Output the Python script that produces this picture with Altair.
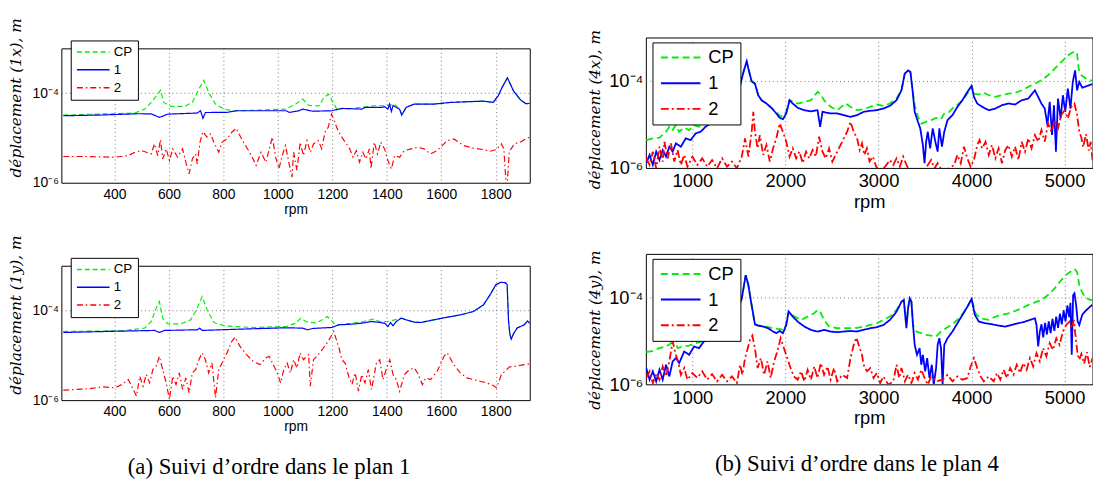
import altair as alt
import pandas as pd

SERIES = ["CP", "1", "2"]
COLORS = ["#00ee00", "#0000ff", "#ff0000"]

# ---------------- Top-left panel (plan 1, x) ----------------
TL_CP_RPM = [212, 342, 475, 511, 535, 559, 569, 581, 608, 656,
             686, 710, 728, 746, 771, 801, 837, 934, 1030, 1066,
             1091, 1115, 1151, 1169, 1187, 1199, 1217, 1272, 1356, 1392,
             1429, 1447, 1455, 1471, 1501, 1573, 1634, 1694, 1755, 1791,
             1809, 1825, 1843, 1866, 1892, 1911, 1925]
TL_CP_VAL = [3.24e-5, 3.41e-5, 3.6e-5, 4.41e-5, 6.2e-5, 9.5e-5, 1.17e-4, 6.2e-5, 5.06e-5, 5.06e-5,
             6.2e-5, 1.23e-4, 1.94e-4, 1.04e-4, 5.7e-5, 4.41e-5, 4.05e-5, 4.19e-5, 4.41e-5, 5.7e-5,
             7.35e-5, 5.3e-5, 5.2e-5, 8.0e-5, 9.5e-5, 6.8e-5, 4.41e-5, 4.56e-5, 5.23e-5, 5.23e-5,
             5.6e-5, 4.41e-5, 3.24e-5, 4.8e-5, 5.7e-5, 5.7e-5, 6.21e-5, 6.42e-5, 6.64e-5, 6.21e-5,
             8.7e-5, 1.4e-4, 2.2e-4, 1.1e-4, 7.0e-5, 5.8e-5, 5.9e-5]
TL_1_RPM = [212, 342, 487, 535, 565, 596, 668, 704, 716, 725,
            734, 813, 849, 970, 1030, 1042, 1078, 1091, 1127, 1199,
            1235, 1308, 1320, 1380, 1392, 1404, 1410, 1417, 1423, 1435,
            1447, 1455, 1471, 1501, 1573, 1634, 1694, 1755, 1791, 1809,
            1825, 1843, 1866, 1892, 1911, 1925]
TL_1_VAL = [3.13e-5, 3.24e-5, 3.47e-5, 3.45e-5, 2.88e-5, 3.40e-5, 3.53e-5, 3.6e-5, 4.05e-5, 2.74e-5,
            3.7e-5, 3.72e-5, 4.05e-5, 4.05e-5, 4.05e-5, 3.72e-5, 4.05e-5, 4.41e-5, 3.95e-5, 4.05e-5,
            4.56e-5, 4.41e-5, 4.8e-5, 4.8e-5, 5.0e-5, 4.4e-5, 5.7e-5, 3.9e-5, 5.3e-5, 4.8e-5,
            4.4e-5, 3.24e-5, 4.8e-5, 5.7e-5, 5.7e-5, 6.21e-5, 6.42e-5, 6.64e-5, 6.21e-5, 8.7e-5,
            1.4e-4, 2.2e-4, 1.1e-4, 7.0e-5, 5.8e-5, 5.9e-5]
TL_2_RPM = [212, 300, 402, 451, 475, 499, 535, 547, 559, 569,
            577, 590, 602, 614, 632, 650, 662, 674, 686, 698,
            704, 714, 725, 740, 753, 765, 783, 795, 813, 831,
            847, 867, 885, 903, 920, 938, 956, 980, 992, 1004,
            1016, 1028, 1040, 1052, 1058, 1070, 1082, 1094, 1107, 1119,
            1131, 1149, 1161, 1173, 1185, 1197, 1209, 1221, 1239, 1252,
            1264, 1276, 1288, 1300, 1312, 1324, 1336, 1342, 1354, 1366,
            1378, 1392, 1404, 1417, 1429, 1447, 1465, 1489, 1513, 1537,
            1561, 1585, 1622, 1646, 1682, 1719, 1755, 1779, 1803, 1821,
            1830, 1840, 1850, 1870, 1890, 1910, 1925]
TL_2_VAL = [3.85e-6, 3.85e-6, 3.72e-6, 4.05e-6, 4.8e-6, 5.23e-6, 4.41e-6, 7.36e-6, 4.05e-6, 9.18e-6,
            3.41e-6, 5.7e-6, 3.13e-6, 5.7e-6, 3.72e-6, 5.7e-6, 2.88e-6, 1.58e-6, 3.41e-6, 4.41e-6,
            2.64e-6, 8.0e-6, 1.38e-5, 1.04e-5, 1.23e-5, 8.0e-6, 4.8e-6, 8.0e-6, 9.5e-6, 1.34e-5,
            1.64e-5, 9.5e-6, 6.21e-6, 4.05e-6, 2.43e-6, 4.8e-6, 2.88e-6, 1.04e-5, 3.72e-6, 2.05e-6,
            4.05e-6, 6.76e-6, 2.88e-6, 1.34e-6, 4.8e-6, 1.88e-6, 8.0e-6, 4.05e-6, 8.72e-6, 4.8e-6,
            7.36e-6, 8.72e-6, 5.7e-6, 1.34e-5, 1.73e-5, 3.41e-5, 2.23e-5, 1.46e-5, 9.5e-6, 7.36e-6,
            5.7e-6, 3.72e-6, 5.23e-6, 2.88e-6, 4.8e-6, 3.41e-6, 5.7e-6, 2.05e-6, 8.0e-6, 4.41e-6,
            8.0e-6, 5.7e-6, 3.13e-6, 2.05e-6, 4.05e-6, 3.72e-6, 5.23e-6, 5.7e-6, 6.21e-6, 5.7e-6,
            4.41e-6, 5.23e-6, 8.72e-6, 9.5e-6, 6.76e-6, 5.89e-6, 5.5e-6, 5.06e-6, 5.5e-6, 7.36e-6,
            5.7e-6, 6e-7, 5e-6, 7.5e-6, 8e-6, 9.5e-6, 1.05e-5]

# ---------------- Bottom-left panel (plan 1, y) ----------------
BL_CP_RPM = [212, 427, 511, 535, 553, 565, 577, 596, 644, 680,
             704, 722, 740, 765, 801, 837, 909, 1030, 1066, 1084,
             1103, 1139, 1163, 1181, 1193, 1205, 1223, 1272, 1314, 1350,
             1374, 1404, 1429, 1447, 1453, 1471, 1501, 1525, 1573, 1622,
             1670, 1718, 1755, 1779, 1800, 1817, 1835, 1842, 1847, 1852,
             1857, 1865, 1879, 1905, 1917, 1925]
BL_CP_VAL = [3.41e-5, 3.53e-5, 4.05e-5, 5.7e-5, 1.13e-4, 1.58e-4, 6.76e-5, 5.06e-5, 5.06e-5, 6.21e-5,
             1.13e-4, 2.05e-4, 1.04e-4, 5.41e-5, 4.63e-5, 4.41e-5, 4.19e-5, 4.41e-5, 5.23e-5, 6.76e-5,
             5.7e-5, 5.23e-5, 6.21e-5, 7.35e-5, 6.4e-5, 5.23e-5, 4.8e-5, 5.23e-5, 5.7e-5, 6.4e-5,
             5.7e-5, 5.7e-5, 6.21e-5, 6.5e-5, 6.76e-5, 6.21e-5, 5.5e-5, 5.41e-5, 6.21e-5, 7.1e-5,
             8.0e-5, 9.5e-5, 1.34e-4, 2.23e-4, 3.72e-4, 4.26e-4, 4.2e-4, 3.8e-4, 6e-5, 3e-5,
             2.3e-5, 3.0e-5, 4.1e-5, 4.8e-5, 5.9e-5, 5.2e-5]
BL_1_RPM = [212, 366, 547, 565, 584, 704, 713, 722, 789, 909,
            1030, 1091, 1109, 1127, 1199, 1223, 1272, 1308, 1344, 1374,
            1392, 1404, 1414, 1423, 1435, 1453, 1471, 1501, 1525, 1573,
            1622, 1670, 1718, 1755, 1779, 1800, 1817, 1835, 1842, 1847,
            1852, 1857, 1865, 1879, 1905, 1917, 1925]
BL_1_VAL = [3.24e-5, 3.41e-5, 3.6e-5, 3.24e-5, 3.6e-5, 3.72e-5, 4.05e-5, 3.6e-5, 3.72e-5, 3.92e-5,
            4.12e-5, 4.05e-5, 3.72e-5, 3.98e-5, 4.19e-5, 4.8e-5, 4.96e-5, 5.23e-5, 5.7e-5, 5.41e-5,
            5.23e-5, 4.41e-5, 5.41e-5, 4.56e-5, 5.7e-5, 6.76e-5, 6.21e-5, 5.5e-5, 5.41e-5, 6.21e-5,
            7.1e-5, 8.0e-5, 9.5e-5, 1.34e-4, 2.23e-4, 3.72e-4, 4.26e-4, 4.2e-4, 3.8e-4, 6e-5,
            3e-5, 2.3e-5, 3.0e-5, 4.1e-5, 4.8e-5, 5.9e-5, 5.2e-5]
BL_2_RPM = [212, 306, 354, 402, 427, 451, 469, 481, 493, 505,
            517, 529, 541, 553, 565, 577, 590, 602, 614, 626,
            638, 650, 662, 674, 686, 698, 710, 722, 734, 746,
            758, 771, 783, 795, 813, 831, 843, 861, 885, 909,
            934, 956, 968, 980, 998, 1010, 1022, 1034, 1046, 1058,
            1070, 1082, 1094, 1113, 1119, 1131, 1149, 1167, 1185, 1205,
            1223, 1235, 1247, 1260, 1272, 1284, 1296, 1308, 1320, 1332,
            1344, 1362, 1374, 1386, 1398, 1411, 1423, 1435, 1447, 1465,
            1483, 1501, 1513, 1531, 1543, 1561, 1585, 1610, 1622, 1646,
            1670, 1694, 1718, 1743, 1767, 1791, 1803, 1821, 1835, 1850,
            1880, 1905, 1925]
BL_2_VAL = [1.67e-6, 1.79e-6, 1.98e-6, 1.88e-6, 2.23e-6, 2.88e-6, 1.73e-6, 1.23e-6, 3.41e-6, 2.05e-6,
            3.72e-6, 2.43e-6, 4.8e-6, 5.7e-6, 9.5e-6, 4.8e-6, 2.43e-6, 1.03e-6, 3.41e-6, 2.23e-6,
            4.05e-6, 1.73e-6, 3.13e-6, 1.46e-6, 4.05e-6, 4.8e-6, 8.0e-6, 1.13e-5, 8.0e-6, 4.05e-6,
            6.76e-6, 1.13e-6, 4.8e-6, 6.76e-6, 1.13e-5, 2.05e-5, 2.55e-5, 1.58e-5, 1.04e-5, 7.36e-6,
            6.21e-6, 8.72e-6, 9.5e-6, 6.76e-6, 4.05e-6, 2.43e-6, 4.8e-6, 6.76e-6, 4.05e-6, 8.0e-6,
            5.23e-6, 1.13e-5, 8.0e-6, 1.04e-5, 2.05e-6, 8.0e-6, 1.04e-5, 1.46e-5, 2.05e-5, 3.41e-5,
            1.58e-5, 8.0e-6, 6.76e-6, 3.41e-6, 2.23e-6, 4.05e-6, 1.58e-6, 3.72e-6, 2.43e-6, 4.8e-6,
            1.73e-6, 6.76e-6, 8.0e-6, 2.88e-6, 4.8e-6, 8.0e-6, 3.72e-6, 2.88e-6, 1.58e-6, 3.72e-6,
            4.8e-6, 5.23e-6, 4.05e-6, 2.23e-6, 3.13e-6, 2.88e-6, 4.41e-6, 9.5e-6, 1.13e-5, 6.21e-6,
            4.05e-6, 3.13e-6, 2.88e-6, 2.64e-6, 2.43e-6, 2.12e-6, 1.88e-6, 3.72e-6, 4.5e-6, 5.5e-6,
            5.8e-6, 6.2e-6, 6.4e-6]

# ---------------- Top-right panel (plan 4, x) ----------------
TR_CP_RPM = [504, 575, 646, 717, 752, 788, 823, 858, 912, 965,
             1018, 1071, 1124, 1177, 1230, 1283, 1319, 1389, 1460, 1513,
             1549, 1584, 1602, 1637, 1672, 1708, 1743, 1796, 1849, 1902,
             1938, 1973, 2009, 2044, 2132, 2203, 2274, 2345, 2373, 2415,
             2486, 2557, 2646, 2699, 2770, 2840, 2911, 2982, 3053, 3123,
             3194, 3247, 3282, 3318, 3343, 3364, 3389, 3424, 3460, 3512,
             3566, 3619, 3672, 3707, 3760, 3813, 3866, 3919, 3972, 4001,
             4026, 4079, 4132, 4185, 4256, 4327, 4397, 4468, 4539, 4610,
             4681, 4751, 4822, 4893, 4964, 5035, 5106, 5134, 5150, 5165,
             5190, 5240, 5300]
TR_CP_VAL = [4.38e-6, 4.78e-6, 4.95e-6, 6.79e-6, 8.85e-6, 7.41e-6, 9.66e-6, 6.79e-6, 8.4e-6, 7.41e-6,
             9.66e-6, 8.85e-6, 1.05e-5, 1.19e-5, 1.5e-5, 1.79e-5, 2.1e-5, 3.03e-5, 4.7e-5, 7.96e-5,
             1.61e-4, 2.82e-4, 1.91e-4, 9.8e-5, 8.7e-5, 4.7e-5, 3.61e-5, 3.03e-5, 2.41e-5, 1.95e-5,
             1.6e-5, 1.5e-5, 1.95e-5, 3.61e-5, 3.03e-5, 3.3e-5, 3.61e-5, 5.6e-5, 5.13e-5, 3.61e-5,
             2.54e-5, 2.13e-5, 3.03e-5, 2.54e-5, 2.13e-5, 2.24e-5, 2.54e-5, 2.87e-5, 2.68e-5, 3.03e-5,
             3.94e-5, 6.1e-5, 1.47e-4, 1.75e-4, 1.61e-4, 6.7e-5, 2.77e-5, 1.5e-5, 1.05e-5, 1.15e-5,
             1.26e-5, 1.42e-5, 1.32e-5, 1.79e-5, 1.95e-5, 2.54e-5, 3.03e-5, 3.94e-5, 5.8e-5, 7.7e-5,
             5.13e-5, 4.86e-5, 5.4e-5, 4.7e-5, 4.3e-5, 4.7e-5, 5.13e-5, 5.3e-5, 6.1e-5, 7.3e-5,
             8.7e-5, 1.04e-4, 1.35e-4, 1.91e-4, 2.72e-4, 3.87e-4, 4.78e-4, 4.23e-4, 2.0e-4, 1.5e-4,
             1.3e-4, 1.1e-4, 1.0e-4]
TR_1_RPM = [504, 540, 575, 611, 646, 681, 717, 752, 788, 823,
            876, 929, 982, 1035, 1088, 1142, 1195, 1248, 1319, 1389,
            1460, 1513, 1549, 1584, 1602, 1637, 1672, 1708, 1743, 1796,
            1849, 1902, 1938, 1973, 2009, 2044, 2079, 2132, 2203, 2274,
            2345, 2373, 2398, 2486, 2557, 2628, 2699, 2770, 2840, 2911,
            2982, 3053, 3123, 3194, 3247, 3282, 3318, 3343, 3364, 3389,
            3424, 3449, 3477, 3495, 3512, 3530, 3555, 3583, 3611, 3636,
            3654, 3682, 3707, 3742, 3795, 3848, 3902, 3955, 4001, 4026,
            4061, 4114, 4185, 4256, 4327, 4397, 4468, 4539, 4610, 4681,
            4716, 4751, 4787, 4815, 4840, 4865, 4886, 4907, 4929, 4957,
            4982, 5007, 5035, 5063, 5088, 5113, 5134, 5158, 5190, 5230,
            5265, 5300]
TR_1_VAL = [1.28e-6, 1.99e-6, 1.17e-6, 2.37e-6, 1.52e-6, 2.58e-6, 1.82e-6, 3.08e-6, 2.37e-6, 3.67e-6,
            3.08e-6, 4.78e-6, 4.38e-6, 6.22e-6, 6.79e-6, 8.85e-6, 1.05e-5, 1.37e-5, 1.95e-5, 3.03e-5,
            4.7e-5, 7.96e-5, 1.61e-4, 2.82e-4, 1.91e-4, 9.8e-5, 8.7e-5, 4.7e-5, 3.61e-5, 3.03e-5,
            2.41e-5, 1.79e-5, 1.42e-5, 1.32e-5, 1.79e-5, 3.61e-5, 3.03e-5, 2.41e-5, 2.13e-5, 2.0e-5,
            2.13e-5, 8.8e-6, 1.95e-5, 1.79e-5, 1.79e-5, 1.64e-5, 1.5e-5, 1.64e-5, 1.95e-5, 2.06e-5,
            2.13e-5, 2.32e-5, 2.68e-5, 3.61e-5, 6.1e-5, 1.47e-4, 1.75e-4, 1.61e-4, 6.7e-5, 1.95e-5,
            1.15e-5, 8.1e-6, 3.36e-6, 1.28e-6, 4.01e-6, 6.79e-6, 2.82e-6, 8.1e-6, 4.01e-6, 2.37e-6,
            8.1e-6, 3.08e-6, 6.79e-6, 1.26e-5, 1.64e-5, 2.54e-5, 3.61e-5, 5.6e-5, 7.7e-5, 4.3e-5,
            3.03e-5, 2.54e-5, 2.13e-5, 2.32e-5, 2.77e-5, 3.03e-5, 2.87e-5, 3.61e-5, 3.94e-5, 6.1e-5,
            4.3e-5, 3.03e-5, 2.32e-5, 9.66e-6, 3.3e-5, 5.7e-6, 2.77e-5, 2.37e-6, 3.94e-5, 1.37e-5,
            4.7e-5, 1.95e-5, 6.7e-5, 2.32e-5, 9.5e-5, 1.75e-4, 6.1e-5, 9.5e-5, 7e-5, 7.5e-5,
            8e-5, 8.5e-5]
TR_2_RPM = [504, 540, 575, 611, 646, 681, 699, 735, 770, 805,
            841, 876, 912, 947, 1000, 1053, 1106, 1159, 1212, 1265,
            1319, 1372, 1425, 1478, 1531, 1566, 1602, 1637, 1655, 1672,
            1701, 1725, 1761, 1796, 1832, 1867, 1902, 1938, 1973, 2009,
            2044, 2079, 2115, 2150, 2186, 2221, 2256, 2292, 2327, 2362,
            2398, 2433, 2469, 2504, 2557, 2610, 2663, 2699, 2734, 2770,
            2798, 2823, 2848, 2876, 2904, 2940, 2975, 3018, 3071, 3123,
            3159, 3194, 3230, 3265, 3301, 3336, 3407, 3477, 3530, 3566,
            3601, 3636, 3689, 3760, 3813, 3848, 3884, 3919, 3955, 3990,
            4026, 4061, 4086, 4114, 4150, 4185, 4220, 4256, 4291, 4327,
            4362, 4397, 4433, 4468, 4504, 4539, 4575, 4610, 4645, 4681,
            4716, 4751, 4787, 4822, 4858, 4893, 4929, 4964, 5000, 5035,
            5071, 5106, 5134, 5158, 5180, 5200, 5230, 5260, 5280, 5300]
TR_2_VAL = [1.66e-6, 1.17e-6, 2.37e-6, 9.8e-7, 3.08e-6, 1.4e-6, 4.01e-6, 1.66e-6, 3.67e-6, 1.4e-6,
            2.58e-6, 1.17e-6, 1.99e-6, 1.07e-6, 1.82e-6, 1.17e-6, 1.66e-6, 1.07e-6, 1.52e-6, 9.8e-7,
            1.66e-6, 1.07e-6, 1.4e-6, 9.8e-7, 1.82e-6, 4.78e-6, 1.82e-6, 6.79e-6, 1.95e-5, 6.79e-6,
            2.82e-6, 5.7e-6, 1.99e-6, 3.36e-6, 1.4e-6, 2.82e-6, 4.78e-6, 1.05e-5, 6.79e-6, 4.01e-6,
            1.82e-6, 2.82e-6, 1.66e-6, 2.37e-6, 1.28e-6, 2.37e-6, 1.66e-6, 2.58e-6, 1.82e-6, 5.22e-6,
            2.37e-6, 1.66e-6, 2.82e-6, 1.4e-6, 2.37e-6, 4.01e-6, 6.79e-6, 1.15e-5, 6.79e-6, 4.78e-6,
            2.58e-6, 3.67e-6, 1.99e-6, 2.82e-6, 1.4e-6, 1.82e-6, 1.07e-6, 8.3e-7, 1.07e-6, 1.52e-6,
            1.17e-6, 1.66e-6, 1.07e-6, 1.82e-6, 1.17e-6, 8.3e-7, 8.3e-7, 8.3e-7, 1.17e-6, 1.52e-6,
            9.8e-7, 1.28e-6, 8.3e-7, 9.8e-7, 1.17e-6, 1.99e-6, 1.28e-6, 3.08e-6, 1.66e-6, 1.07e-6,
            1.52e-6, 3.36e-6, 4.38e-6, 2.82e-6, 4.01e-6, 1.99e-6, 3.36e-6, 1.66e-6, 2.82e-6, 1.28e-6,
            2.58e-6, 3.36e-6, 1.82e-6, 3.08e-6, 1.52e-6, 4.01e-6, 2.37e-6, 4.78e-6, 2.82e-6, 5.7e-6,
            4.01e-6, 7.41e-6, 4.01e-6, 1.05e-5, 6.79e-6, 1.26e-5, 8.1e-6, 1.64e-5, 2.13e-5, 1.37e-5,
            2.54e-5, 3.03e-5, 1.64e-5, 6.79e-6, 5e-6, 3e-6, 6e-6, 2.5e-6, 4e-6, 1.5e-6]

# ---------------- Bottom-right panel (plan 4, y) ----------------
BR_CP_RPM = [504, 575, 646, 717, 770, 805, 841, 894, 965, 1035,
             1106, 1177, 1248, 1283, 1354, 1425, 1478, 1531, 1573, 1602,
             1630, 1655, 1672, 1708, 1743, 1849, 1920, 1991, 2034, 2097,
             2168, 2238, 2309, 2345, 2373, 2415, 2469, 2557, 2663, 2770,
             2840, 2911, 2982, 3053, 3123, 3194, 3247, 3272, 3300, 3318,
             3336, 3354, 3371, 3407, 3460, 3512, 3566, 3619, 3672, 3725,
             3795, 3866, 3937, 4001, 4043, 4097, 4185, 4256, 4327, 4397,
             4468, 4539, 4610, 4681, 4751, 4822, 4893, 4964, 5035, 5106,
             5134, 5158, 5175, 5220, 5260, 5300]
BR_CP_VAL = [5.5e-6, 5.9e-6, 6.79e-6, 7.41e-6, 8.85e-6, 1.26e-5, 6.79e-6, 7.41e-6, 7.8e-6, 8.85e-6,
             9.66e-6, 1.11e-5, 1.32e-5, 1.55e-5, 2.13e-5, 3.03e-5, 4.3e-5, 9.5e-5, 3.25e-4, 1.91e-4,
             8e-5, 3.94e-5, 2.41e-5, 2.24e-5, 2.24e-5, 2.0e-5, 1.88e-5, 1.79e-5, 4.7e-5, 3.61e-5,
             3.03e-5, 3.61e-5, 4.3e-5, 5.13e-5, 4.7e-5, 3.03e-5, 2.13e-5, 1.95e-5, 1.95e-5, 2.0e-5,
             2.13e-5, 2.32e-5, 2.54e-5, 3.03e-5, 3.61e-5, 5.13e-5, 7.96e-5, 8.7e-5, 2.5e-5, 5.6e-5,
             9.5e-5, 7.96e-5, 2.32e-5, 1.64e-5, 1.5e-5, 1.37e-5, 1.32e-5, 1.26e-5, 1.64e-5, 1.95e-5,
             2.41e-5, 3.3e-5, 5.13e-5, 9.2e-5, 4.3e-5, 3.3e-5, 3.03e-5, 3.61e-5, 3.94e-5, 4.3e-5,
             4.86e-5, 5.6e-5, 6.7e-5, 7.7e-5, 8.7e-5, 1.13e-4, 1.61e-4, 2.49e-4, 3.55e-4, 4.46e-4,
             3.87e-4, 1.91e-4, 1.5e-4, 1.0e-4, 9e-5, 8.5e-5]
BR_1_RPM = [504, 540, 575, 611, 646, 681, 717, 752, 788, 823,
            858, 912, 965, 1018, 1071, 1124, 1177, 1230, 1283, 1354,
            1425, 1478, 1531, 1573, 1602, 1630, 1655, 1672, 1708, 1761,
            1814, 1867, 1902, 1938, 1973, 2009, 2034, 2079, 2132, 2203,
            2274, 2345, 2415, 2486, 2557, 2628, 2699, 2770, 2840, 2911,
            2982, 3053, 3123, 3194, 3247, 3272, 3300, 3318, 3336, 3354,
            3371, 3389, 3414, 3442, 3460, 3477, 3502, 3523, 3548, 3573,
            3594, 3619, 3636, 3654, 3672, 3689, 3707, 3742, 3795, 3848,
            3902, 3955, 4001, 4036, 4079, 4150, 4220, 4291, 4362, 4433,
            4504, 4575, 4681, 4698, 4716, 4734, 4752, 4770, 4790, 4810,
            4830, 4850, 4870, 4890, 4910, 4930, 4950, 4970, 4990, 5010,
            5030, 5050, 5063, 5077, 5092, 5106, 5124, 5141, 5158, 5190,
            5230, 5270, 5300]
BR_1_VAL = [2.37e-6, 1.28e-6, 1.99e-6, 1.17e-6, 2.17e-6, 1.28e-6, 2.82e-6, 1.52e-6, 3.36e-6, 4.01e-6,
            3.08e-6, 5.7e-6, 4.78e-6, 7.41e-6, 6.79e-6, 9.66e-6, 1.05e-5, 1.26e-5, 1.5e-5, 2.13e-5,
            3.03e-5, 4.3e-5, 9.5e-5, 3.25e-4, 1.91e-4, 8e-5, 3.94e-5, 2.41e-5, 2.24e-5, 2.13e-5,
            1.95e-5, 1.64e-5, 1.5e-5, 1.69e-5, 1.5e-5, 2.32e-5, 4.7e-5, 3.61e-5, 2.77e-5, 2.13e-5,
            1.79e-5, 1.64e-5, 1.79e-5, 1.64e-5, 1.58e-5, 1.64e-5, 1.69e-5, 1.64e-5, 1.79e-5, 1.95e-5,
            2.06e-5, 2.32e-5, 3.03e-5, 4.7e-5, 7.96e-5, 8.7e-5, 1.95e-5, 5.6e-5, 9.5e-5, 7.96e-5,
            2.32e-5, 8.1e-6, 4.78e-6, 6.79e-6, 2.82e-6, 4.78e-6, 1.99e-6, 4.01e-6, 1.4e-6, 2.82e-6,
            9.8e-7, 2.37e-6, 8.1e-6, 1.15e-5, 6.79e-6, 9.8e-7, 8.1e-6, 1.15e-5, 1.64e-5, 2.54e-5,
            3.94e-5, 6.1e-5, 9.2e-5, 3.94e-5, 2.77e-5, 2.54e-5, 2.41e-5, 2.24e-5, 2.13e-5, 2.32e-5,
            2.54e-5, 2.77e-5, 3.3e-5, 2.32e-5, 7.41e-6, 1.64e-5, 2.4e-5, 1.2e-5, 2.6e-5, 1.4e-5,
            2.8e-5, 1.5e-5, 3.2e-5, 1.7e-5, 3.6e-5, 2e-5, 4.2e-5, 2.4e-5, 5e-5, 2.8e-5,
            6.5e-5, 3.5e-5, 7.5e-5, 4.78e-6, 1.13e-4, 1.24e-4, 6.7e-5, 2.77e-5, 2.32e-5, 4e-5,
            5e-5, 6e-5, 6.8e-5]
BR_2_RPM = [504, 540, 575, 611, 646, 681, 717, 752, 788, 823,
            851, 876, 912, 947, 1000, 1053, 1106, 1159, 1212, 1265,
            1319, 1372, 1425, 1478, 1513, 1538, 1566, 1595, 1619, 1644,
            1672, 1701, 1736, 1771, 1807, 1842, 1878, 1913, 1948, 1984,
            2020, 2055, 2090, 2132, 2168, 2203, 2238, 2274, 2309, 2345,
            2380, 2415, 2451, 2486, 2522, 2557, 2610, 2663, 2699, 2734,
            2763, 2798, 2823, 2840, 2876, 2911, 2947, 2982, 3018, 3053,
            3106, 3159, 3194, 3223, 3247, 3283, 3318, 3354, 3389, 3424,
            3460, 3495, 3530, 3566, 3619, 3689, 3742, 3795, 3848, 3902,
            3955, 3990, 4026, 4061, 4097, 4132, 4185, 4238, 4274, 4309,
            4345, 4380, 4415, 4451, 4486, 4521, 4557, 4592, 4628, 4663,
            4698, 4734, 4769, 4804, 4840, 4875, 4911, 4946, 4982, 5017,
            5053, 5077, 5099, 5124, 5141, 5158, 5180, 5210, 5240, 5270,
            5300]
BR_2_VAL = [1.4e-6, 1.99e-6, 1.07e-6, 1.82e-6, 1.28e-6, 2.58e-6, 1.52e-6, 3.36e-6, 9.66e-6, 4.78e-6,
            3.08e-6, 1.66e-6, 2.37e-6, 1.28e-6, 1.82e-6, 1.4e-6, 1.99e-6, 1.28e-6, 1.72e-6, 1.17e-6,
            1.66e-6, 1.17e-6, 1.52e-6, 1.07e-6, 2.82e-6, 1.66e-6, 4.01e-6, 6.79e-6, 1.05e-5, 1.32e-5,
            6.79e-6, 2.37e-6, 4.01e-6, 1.66e-6, 3.36e-6, 1.4e-6, 3.36e-6, 5.7e-6, 1.15e-5, 6.79e-6,
            4.01e-6, 2.37e-6, 1.52e-6, 1.28e-6, 1.99e-6, 1.17e-6, 2.17e-6, 1.28e-6, 2.58e-6, 1.4e-6,
            3.08e-6, 1.66e-6, 2.58e-6, 1.28e-6, 2.37e-6, 1.17e-6, 1.66e-6, 1.4e-6, 4.01e-6, 8.1e-6,
            1.19e-5, 6.79e-6, 4.78e-6, 2.82e-6, 1.99e-6, 2.37e-6, 1.4e-6, 1.82e-6, 1.07e-6, 1.52e-6,
            9.8e-7, 1.17e-6, 2.82e-6, 1.4e-6, 2.37e-6, 1.17e-6, 1.66e-6, 1.07e-6, 1.82e-6, 1.28e-6,
            2.17e-6, 1.4e-6, 9.8e-7, 1.52e-6, 1.17e-6, 1.28e-6, 1.66e-6, 1.17e-6, 1.52e-6, 1.28e-6,
            1.4e-6, 2.58e-6, 4.01e-6, 2.37e-6, 1.52e-6, 1.17e-6, 1.52e-6, 1.17e-6, 1.82e-6, 1.28e-6,
            2.17e-6, 1.4e-6, 2.37e-6, 1.66e-6, 2.82e-6, 1.82e-6, 3.08e-6, 2.17e-6, 4.01e-6, 2.58e-6,
            5.22e-6, 3.36e-6, 6.79e-6, 4.38e-6, 8.85e-6, 6.22e-6, 1.15e-5, 8.1e-6, 1.64e-5, 2.32e-5,
            2.77e-5, 1.95e-5, 3.03e-5, 9.66e-6, 4.78e-6, 3.67e-6, 5e-6, 3e-6, 5.5e-6, 2.5e-6,
            4e-6]

LEFT_TICKS = [400, 600, 800, 1000, 1200, 1400, 1600, 1800]
RIGHT_TICKS = [1000, 2000, 3000, 4000, 5000]
Y_TICKS = [1e-6, 1e-4]

SANS = "Liberation Sans"
SERIF = "DejaVu Serif"
GRID = "#7a7a7a"
GRID_OPACITY = {"condition": {"test": "datum.value < 5e-5", "value": 0}, "value": 1}


def frame(cp, one, two):
    parts = []
    for name, (r, v) in zip(SERIES, [cp, one, two]):
        d = pd.DataFrame(list(zip(r, v)), columns=["rpm", "val"])
        d["serie"] = name
        parts.append(d)
    return pd.concat(parts, ignore_index=True)


def panel(df, xdom, xticks, ytitle, w, h, fs, lab_pad, rpm_y, tx, ty,
          legend, dashes, sw):
    x = alt.X("rpm:Q", scale=alt.Scale(domain=xdom, nice=False, zero=False),
              axis=alt.Axis(values=xticks, title="rpm", format="d", grid=True,
                            gridColor=GRID, gridDash=[1, 3], gridWidth=1,
                            domain=False, ticks=False, tickSize=0,
                            labelFont=SANS, labelFontSize=fs, labelColor="black",
                            labelPadding=lab_pad, labelFlush=False,
                            titleFont=SANS, titleFontSize=fs, titleFontWeight="normal",
                            titleColor="black", titleBaseline="bottom", titleY=rpm_y))
    y = alt.Y("val:Q", scale=alt.Scale(type="log", domain=[1e-6, 1e-3], nice=False),
              axis=alt.Axis(values=Y_TICKS,
                            labelExpr="datum.value > 5e-5 ? '10⁻⁴' : '10⁻⁶'",
                            grid=True, gridColor=GRID, gridDash=[1, 3], gridWidth=1,
                            gridOpacity=GRID_OPACITY,
                            domain=False, ticks=False, tickSize=0,
                            labelFont=SANS, labelFontSize=fs, labelColor="black",
                            labelPadding=3,
                            title=ytitle, titleFont=SERIF, titleFontStyle="italic",
                            titleFontWeight="normal", titleFontSize=15.5, titleColor="black",
                            titleAngle=270, titleAlign="right", titleBaseline="top",
                            titleX=tx, titleY=ty))
    color = alt.Color("serie:N", scale=alt.Scale(domain=SERIES, range=COLORS), legend=legend)
    dash = alt.StrokeDash("serie:N", scale=alt.Scale(domain=SERIES, range=dashes), legend=legend)
    layers = [
        alt.Chart(df).transform_filter(alt.datum.serie == s)
        .mark_line(clip=True, strokeWidth=sw)
        .encode(x=x, y=y, color=color, strokeDash=dash)
        for s in SERIES
    ]
    return alt.layer(*layers).properties(width=w, height=h)


def legend_small():
    return alt.Legend(title=None, orient="none", legendX=9.5, legendY=-8,
                      symbolType="M-3,0H3", symbolSize=121, symbolStrokeWidth=1.5,
                      symbolOffset=11, labelOffset=14, labelFont=SANS, labelFontSize=13.5,
                      labelColor="black", padding=5, rowPadding=3, strokeColor="black",
                      fillColor="white", cornerRadius=0)


def legend_big():
    return alt.Legend(title=None, orient="none", legendX=6.7, legendY=5,
                      symbolType="M-3,0H3", symbolSize=178, symbolStrokeWidth=2,
                      symbolOffset=13.3, labelOffset=18.7, labelFont=SANS, labelFontSize=18.5,
                      labelColor="black", padding=6, rowPadding=7, strokeColor="black",
                      fillColor="white", cornerRadius=0)


DASH_L = [[5, 3], [1, 0], [6, 3, 1.5, 3]]
DASH_R = [[7, 4], [1, 0], [8, 3, 2, 3]]

TL = panel(frame((TL_CP_RPM, TL_CP_VAL), (TL_1_RPM, TL_1_VAL), (TL_2_RPM, TL_2_VAL)),
           [205, 1925], LEFT_TICKS, "déplacement (1x), m", 474, 136, 14, 5, 34, -53.5, -31,
           legend_small(), DASH_L, 1.2)
BL = panel(frame((BL_CP_RPM, BL_CP_VAL), (BL_1_RPM, BL_1_VAL), (BL_2_RPM, BL_2_VAL)),
           [205, 1925], LEFT_TICKS, "déplacement (1y), m", 474, 136, 14, 5, 34, -53.5, -31,
           legend_small(), DASH_L, 1.2)
TR = panel(frame((TR_CP_RPM, TR_CP_VAL), (TR_1_RPM, TR_1_VAL), (TR_2_RPM, TR_2_VAL)),
           [500, 5300], RIGHT_TICKS, "déplacement (4x), m", 452, 132, 18.5, 4, 44, -59, -8,
           legend_big(), DASH_R, 1.8)
BR = panel(frame((BR_CP_RPM, BR_CP_VAL), (BR_1_RPM, BR_1_VAL), (BR_2_RPM, BR_2_VAL)),
           [500, 5300], RIGHT_TICKS, "déplacement (4y), m", 452, 132, 18.5, 4, 44, -59, -4,
           legend_big(), DASH_R, 1.8)

spacer = (alt.Chart(pd.DataFrame({"s": [0]}))
          .mark_rect(opacity=0)
          .encode(x=alt.value(0), x2=alt.value(1), y=alt.value(0), y2=alt.value(1))
          .properties(width=474, height=1, view=alt.ViewBackground(strokeOpacity=0)))

RES = dict(color="independent", strokeDash="independent")

cap_a = alt.TitleParams(text="(a) Suivi d’ordre dans le plan 1", orient="bottom",
                        anchor="middle", font="Liberation Serif", fontSize=23,
                        fontWeight="normal", color="black", offset=22)
cap_b = alt.TitleParams(text="(b) Suivi d’ordre dans le plan 4", orient="bottom",
                        anchor="middle", font="Liberation Serif", fontSize=23,
                        fontWeight="normal", color="black", offset=26, dx=17)

inner_left = alt.vconcat(TL, BL, spacing=17).resolve_scale(**RES).resolve_legend(**RES)
left_col = (alt.vconcat(spacer, inner_left, spacing=-22, title=cap_a)
            .resolve_scale(**RES).resolve_legend(**RES))
right_col = (alt.vconcat(TR, BR, spacing=38, title=cap_b)
             .resolve_scale(**RES).resolve_legend(**RES))

chart = (alt.hconcat(left_col, right_col, spacing=56.5)
         .resolve_scale(**RES).resolve_legend(**RES)
         .properties(padding={"left": 0, "top": 6, "right": 0, "bottom": 0},
                     background="white")
         .configure_view(stroke="black", strokeWidth=1))

chart.save("out.html", embed_options={"renderer": "svg", "actions": False})
